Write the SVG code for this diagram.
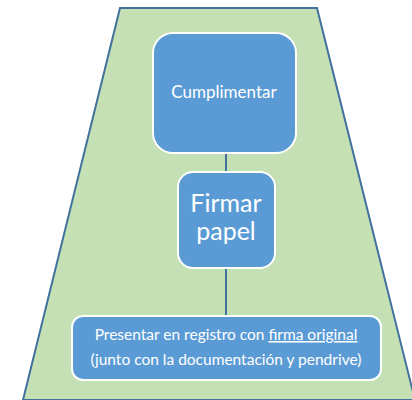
<svg xmlns="http://www.w3.org/2000/svg" width="412" height="400" viewBox="0 0 412 400">
<style>
.box{fill:#5B9BD5;stroke:#FFFFFF;stroke-width:2}
.t{fill:#FFFFFF;font-family:Lato,"Open Sans","Liberation Sans",sans-serif;text-anchor:middle}
.conn{stroke:#41719C;stroke-width:2;fill:none}
</style>
<g id="background">
<polygon points="120,8 317,8 415,400 23,400" fill="#C5E0B4" stroke="#41719C" stroke-width="2"/>
</g>
<g id="connectors">
<line class="conn" x1="226" y1="153" x2="226" y2="172"/>
<line class="conn" x1="226" y1="268" x2="226" y2="316"/>
</g>
<g id="cumplimentar">
<rect class="box" x="153" y="33" width="143" height="120" rx="20"/>
<text class="t" x="224" y="98" font-size="17">Cumplimentar</text>
</g>
<g id="firmar">
<rect class="box" x="178" y="172" width="97" height="96" rx="15"/>
<text class="t" x="226" y="212" font-size="25">Firmar</text>
<text class="t" x="226" y="240" font-size="25">papel</text>
</g>
<g id="presentar">
<rect class="box" x="72" y="316" width="309" height="64" rx="11"/>
<text class="t" x="226" y="340" font-size="15.5">Presentar en registro con <tspan text-decoration="underline">firma original</tspan></text>
<text class="t" x="226" y="365" font-size="15.5">(junto con la documentación y pendrive)</text>
</g>
</svg>
